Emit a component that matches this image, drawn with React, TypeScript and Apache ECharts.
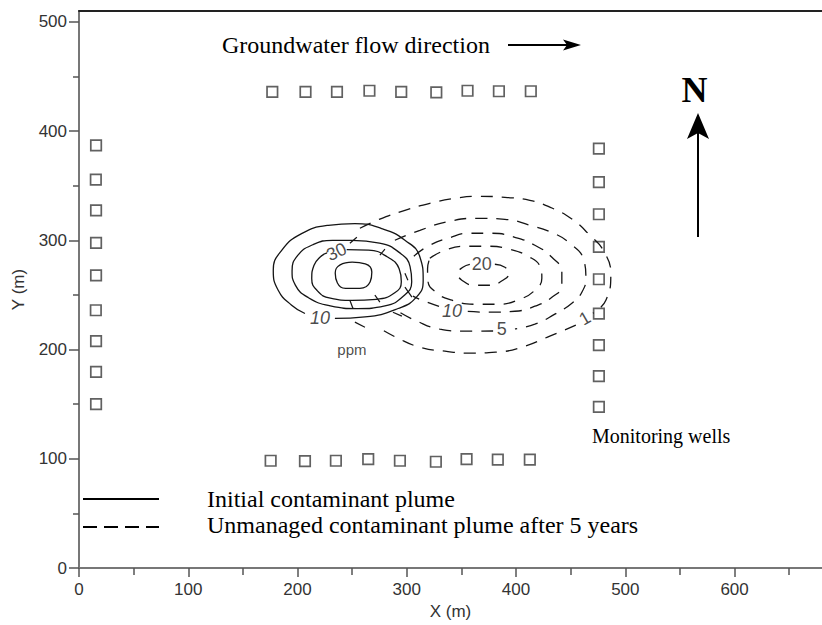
import React, { useEffect, useRef } from "react";
import * as echarts from "echarts";

// ---- axes ----
const X_MAJOR = [0, 100, 200, 300, 400, 500, 600];
const X_MINOR = [50, 150, 250, 350, 450, 550, 650];
const Y_MAJOR = [0, 100, 200, 300, 400, 500];
const Y_MINOR = [50, 150, 250, 350, 450];
const X_MAX = 680;
const Y_MAX = 510;

// ---- monitoring wells (m) ----
const topWellsX = [176.9, 207.3, 236.1, 265.8, 294.9, 327.0, 355.6, 384.3, 413.5];
const topWellsY = [436, 436, 436, 437, 436, 435.5, 437, 436.5, 436.5];
const bottomWellsX = [175.4, 206.8, 235.1, 264.7, 293.7, 326.6, 354.7, 383.3, 412.6];
const bottomWellsY = [98.2, 97.9, 98.2, 99.7, 98.2, 97.3, 99.7, 99.3, 99.3];
const leftWellsX = [15.6, 15.4, 15.6, 15.6, 15.6, 15.4, 15.6, 15.6, 15.6];
const leftWellsY = [387, 355.6, 327.5, 297.6, 268, 236, 207.7, 179.6, 150];
const rightWellsX = [475.8, 475.8, 475.8, 475.8, 475.8, 475.8, 475.8, 475.8, 475.8];
const rightWellsY = [384, 353.4, 323.9, 294, 264.4, 233, 204, 175.7, 147.6];

// ---- initial plume contours (solid) ----
const solid10 = [[234.2, 228.5], [261.7, 229.9], [292.1, 237.6], [309.0, 248.2], [315.0, 263.5], [312.0, 284.8], [298.3, 300.1], [277.0, 310.8], [252.5, 315.4], [228.1, 313.8], [203.7, 306.2], [185.5, 290.9], [177.8, 272.6], [182.3, 254.3], [194.6, 240.6], [206.8, 233.0]];
const solid20 = [[250, 300], [275, 297.5], [293, 289], [303, 276], [304.5, 262], [297, 249], [280, 240], [255, 237.5], [230, 240], [210, 247.5], [198, 259], [195, 272], [200, 286], [214, 296], [232, 300], [250, 300]];
const solid30 = [[245, 291.5], [265, 291], [282, 285], [293, 274], [295, 262], [289, 252], [272, 246], [250, 245], [230, 247], [218, 254], [213, 265], [215, 277], [221, 285], [227, 288.5]];
const solid40 = [[250, 280], [262, 278.5], [268, 271], [266.5, 262], [257, 256], [244, 256], [236.5, 261], [234.5, 270], [239, 277.5], [250, 280]];
// short cross-marks between the rings
const solidHachures = [
  [[247.9, 297.3], [254.3, 302.8]],
  [[275.4, 286.4], [280.0, 291.9]],
  [[298.3, 269.9], [301.0, 263.5]],
  [[270.8, 249.8], [275.4, 243.4]],
  [[247.9, 245.2], [250.7, 237.9]],
  [[298.3, 257.1], [304.7, 248.0]],
  [[287.3, 234.2], [295.5, 230.6]],
  [[252.5, 225.1], [261.7, 220.5]],
];

// ---- plume after 5 years (dashed) ----
const dashed1a = [[257.1, 311.1], [275.4, 319.5], [298.3, 327.5], [321.1, 333.9], [344.0, 338.5], [366.9, 340.3], [389.8, 339.4], [412.6, 336.7], [432.8, 329.6], [451.1, 319.5], [467.5, 304.7], [480.3, 290.0], [486.7, 269.0], [482.2, 245.2], [470.3, 233.3]];
const dashed1b = [[454.7, 222.3], [430.9, 212.3], [405.3, 202.2], [381.5, 197.6], [357.7, 196.7], [334.9, 198.5], [312.0, 202.2], [291.9, 210.4], [273.6, 220.5]];
const dashed5a = [[289.1, 300.1], [312.0, 309.2], [339.4, 317.5], [365.0, 320.2], [389.8, 319.3], [412.6, 313.8], [432.8, 307.2], [449.2, 297.3], [462.0, 281.8], [463.9, 266.2], [460.2, 252.5], [451.1, 242.5], [435.5, 232.4], [417.2, 223.2], [399, 219]];
const dashed5b = [[379, 217], [353.2, 216.8], [330.3, 218.7], [307.4, 226.9], [291.9, 235.1]];
const dashed10a = [[306.5, 285.5], [319.3, 294.6], [337.6, 301.9], [357.7, 306.5], [377.9, 306.5], [398.9, 302.8], [417.2, 295.5], [432.8, 284.5], [441.9, 270.8], [441.9, 258.9], [432.8, 247.9], [417.2, 239.7], [398.9, 235.1], [376.0, 234.2], [351, 235.3]];
const dashed10b = [[329.5, 239.5], [313.8, 245.2], [305.6, 248.9]];
const dashed15 = [[321.1, 283.6], [334.9, 290.9], [353.2, 294.6], [374.2, 294.6], [394.3, 291.9], [410.8, 285.5], [421.8, 276.3], [423.6, 265.3], [417.2, 254.3], [403.5, 246.1], [383.3, 241.5], [362.3, 241.5], [341.3, 245.2], [326.6, 252.5], [319.3, 263.5], [319.0, 274], [321.1, 283.6]];
const dashed20 = [[380.6, 278.1], [389.8, 275.4], [393.4, 269.9], [387.9, 263.5], [376.0, 258.9], [362.3, 258.9], [350.4, 263.5], [346.8, 269.9], [351.3, 275.4], [357.7, 278.1]];

// ---- contour labels ----
const contourLabelText = ["30", "10", "10", "20", "5", "1"];
const contourLabelX = [235.7, 220.5, 341.3, 368.7, 387.0, 462.9];
const contourLabelY = [289.4, 228.5, 235.1, 278.1, 218.7, 228.7];
const unitLabel = { text: "ppm", x: 249.8, y: 200.4 };

// style of labels (kept separate from values)
const labelRotate = [25, 0, 0, 0, 0, 30];
const labelItalic = [false, true, true, false, false, false];

const SANS = "'Liberation Sans', Arial, Helvetica, sans-serif";
const SERIF = "'Liberation Serif', 'Times New Roman', serif";

function zip(xs: number[], ys: number[]) {
  return xs.map((x, i) => [x, ys[i]]);
}

export default function App() {
  const ref = useRef<HTMLDivElement>(null);
  useEffect(() => {
    if (!ref.current) return;
    const chart = echarts.init(ref.current, null, { renderer: "svg" });

    const solidStyle = { color: "#151515", width: 1.3, type: "solid" as const };
    const dashedStyle = { color: "#151515", width: 1.3, type: [12, 9] as any };
    const lineSeries = (data: number[][], dashed: boolean) => ({
      type: "line",
      xAxisIndex: 0,
      yAxisIndex: 0,
      data,
      symbol: "none",
      smooth: 0.5,
      silent: true,
      lineStyle: dashed ? dashedStyle : solidStyle,
      z: 3,
    });

    const wells = [
      ...zip(topWellsX, topWellsY),
      ...zip(bottomWellsX, bottomWellsY),
      ...zip(leftWellsX, leftWellsY),
      ...zip(rightWellsX, rightWellsY),
    ];

    const labelData = contourLabelText.map((t, i) => ({
      name: t,
      value: [contourLabelX[i], contourLabelY[i]],
      label: {
        rotate: labelRotate[i],
        fontStyle: labelItalic[i] ? "italic" : "normal",
      },
    }));

    const tickLine = { color: "#555", width: 1.5 };

    chart.setOption({
      animation: false,
      backgroundColor: "#fff",
      grid: {
        left: 79,
        right: 0,
        top: 11,
        bottom: 57,
        containLabel: false,
        outerBoundsMode: "none",
      },
      xAxis: [
        {
          type: "value",
          min: 0,
          max: X_MAX,
          position: "bottom",
          name: "X (m)",
          nameLocation: "middle",
          nameGap: 33,
          nameTextStyle: { fontFamily: SANS, fontSize: 17, color: "#333" },
          axisLine: { show: true, onZero: false, lineStyle: { color: "#777", width: 2 } },
          axisTick: { show: true, customValues: X_MAJOR, length: 9, lineStyle: tickLine },
          axisLabel: { customValues: X_MAJOR, margin: 13, fontSize: 17, color: "#333", fontFamily: SANS },
          splitLine: { show: false },
        },
        {
          type: "value",
          min: 0,
          max: X_MAX,
          position: "bottom",
          axisLine: { show: false, onZero: false },
          axisTick: { show: true, customValues: X_MINOR, length: 7, lineStyle: tickLine },
          axisLabel: { show: false },
          splitLine: { show: false },
        },
        {
          type: "value",
          min: 0,
          max: X_MAX,
          position: "top",
          axisLine: { show: true, onZero: false, lineStyle: { color: "#222", width: 2 } },
          axisTick: { show: false },
          axisLabel: { show: false },
          splitLine: { show: false },
        },
      ],
      yAxis: [
        {
          type: "value",
          min: 0,
          max: Y_MAX,
          position: "left",
          name: "Y (m)",
          nameLocation: "middle",
          nameGap: 52,
          nameRotate: 90,
          nameTextStyle: { fontFamily: SANS, fontSize: 17, color: "#333" },
          axisLine: { show: true, onZero: false, lineStyle: { color: "#777", width: 2 } },
          axisTick: { show: true, customValues: Y_MAJOR, length: 10, lineStyle: tickLine },
          axisLabel: { customValues: Y_MAJOR, margin: 12, fontSize: 17, color: "#333", fontFamily: SANS },
          splitLine: { show: false },
        },
        {
          type: "value",
          min: 0,
          max: Y_MAX,
          position: "left",
          axisLine: { show: false, onZero: false },
          axisTick: { show: true, customValues: Y_MINOR, length: 6, lineStyle: tickLine },
          axisLabel: { show: false },
          splitLine: { show: false },
        },
      ],
      series: [
        lineSeries(solid10, false),
        lineSeries(solid20, false),
        lineSeries(solid30, false),
        lineSeries(solid40, false),
        {
          type: "lines",
          coordinateSystem: "cartesian2d",
          xAxisIndex: 0,
          yAxisIndex: 0,
          silent: true,
          data: solidHachures.map((c) => ({ coords: c })),
          lineStyle: { color: "#151515", width: 1.2, opacity: 1, curveness: 0 },
          z: 3,
        },
        lineSeries(dashed1a, true),
        lineSeries(dashed1b, true),
        lineSeries(dashed5a, true),
        lineSeries(dashed5b, true),
        lineSeries(dashed10a, true),
        lineSeries(dashed10b, true),
        lineSeries(dashed15, true),
        lineSeries(dashed20, true),
        {
          type: "scatter",
          xAxisIndex: 0,
          yAxisIndex: 0,
          data: wells,
          symbol: "rect",
          symbolSize: 10.5,
          silent: true,
          itemStyle: { color: "rgba(0,0,0,0)", borderColor: "#3a3a3a", borderWidth: 1.7 },
          z: 2,
        },
        {
          type: "scatter",
          xAxisIndex: 0,
          yAxisIndex: 0,
          data: labelData,
          symbolSize: 1,
          silent: true,
          itemStyle: { color: "rgba(0,0,0,0)" },
          label: {
            show: true,
            position: "inside",
            formatter: "{b}",
            fontSize: 18,
            color: "#1a1a1a",
            fontFamily: SANS,
          },
          z: 4,
        },
        {
          type: "scatter",
          xAxisIndex: 0,
          yAxisIndex: 0,
          data: [{ name: unitLabel.text, value: [unitLabel.x, unitLabel.y] }],
          symbolSize: 1,
          silent: true,
          itemStyle: { color: "rgba(0,0,0,0)" },
          label: {
            show: true,
            position: "inside",
            formatter: "{b}",
            fontSize: 15,
            color: "#1a1a1a",
            fontFamily: SANS,
          },
          z: 4,
        },
      ],
      graphic: [
        {
          type: "text",
          style: { text: "Groundwater flow direction", x: 222, y: 45, font: `24px ${SERIF}`, fill: "#000", textAlign: "left", textVerticalAlign: "middle" },
        },
        { type: "line", shape: { x1: 508, y1: 45, x2: 570, y2: 45 }, style: { stroke: "#000", lineWidth: 2 } },
        { type: "polygon", shape: { points: [[581, 45], [563, 39.5], [567, 45], [563, 50.5]] }, style: { fill: "#000" } },
        {
          type: "text",
          style: { text: "N", x: 694.5, y: 90, font: `bold 36px ${SERIF}`, fill: "#000", textAlign: "center", textVerticalAlign: "middle" },
        },
        { type: "line", shape: { x1: 698, y1: 237, x2: 698, y2: 130 }, style: { stroke: "#000", lineWidth: 2 } },
        { type: "polygon", shape: { points: [[698, 113], [687, 139], [698, 133], [709, 139]] }, style: { fill: "#000" } },
        {
          type: "text",
          style: { text: "Monitoring wells", x: 592, y: 436, font: `20px ${SERIF}`, fill: "#000", textAlign: "left", textVerticalAlign: "middle" },
        },
        { type: "line", shape: { x1: 83, y1: 499, x2: 159, y2: 499 }, style: { stroke: "#000", lineWidth: 2 } },
        { type: "line", shape: { x1: 83, y1: 527, x2: 159, y2: 527 }, style: { stroke: "#000", lineWidth: 2, lineDash: [14, 7] } },
        {
          type: "text",
          style: { text: "Initial contaminant plume", x: 207, y: 499, font: `24px ${SERIF}`, fill: "#000", textAlign: "left", textVerticalAlign: "middle" },
        },
        {
          type: "text",
          style: { text: "Unmanaged contaminant plume after 5 years", x: 207, y: 525, font: `24px ${SERIF}`, fill: "#000", textAlign: "left", textVerticalAlign: "middle" },
        },
      ],
    });
    return () => chart.dispose();
  }, []);
  return (
    <div
      ref={ref}
      style={{ position: "fixed", left: 0, top: 0, width: 822, height: 625, background: "#fff" }}
    />
  );
}
